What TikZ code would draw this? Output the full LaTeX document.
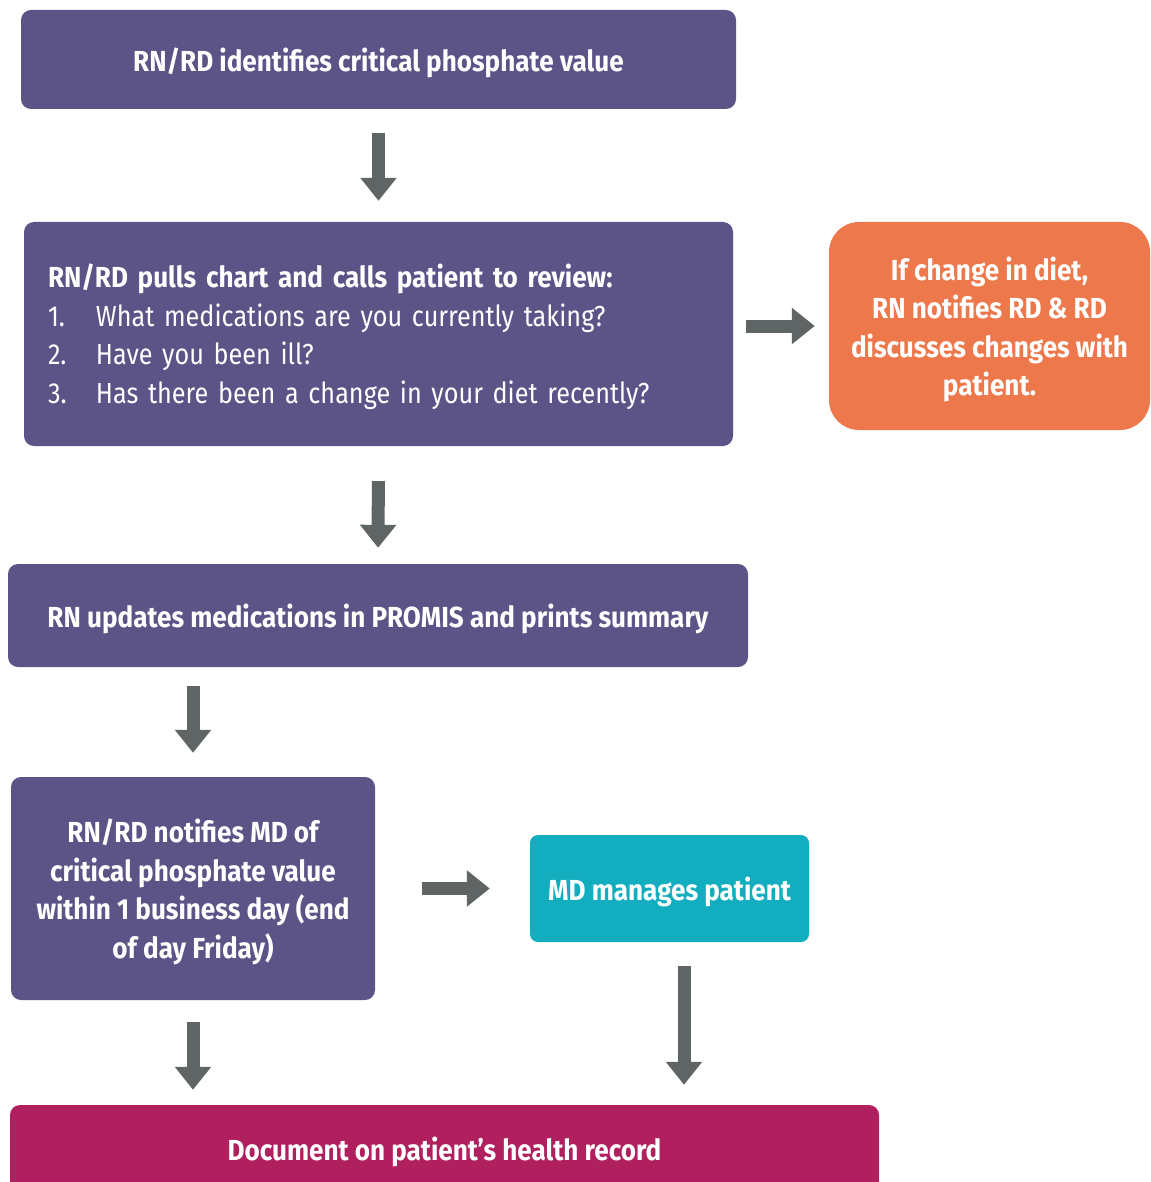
\documentclass[tikz,border=0pt]{standalone}
\usepackage{fontspec}
\setmainfont{Fira Sans}[UprightFeatures={FakeStretch=0.87}, BoldFeatures={FakeStretch=0.9}]
\usetikzlibrary{arrows.meta}
\definecolor{purp}{RGB}{92,83,135}
\definecolor{coral}{RGB}{237,120,76}
\definecolor{teal}{RGB}{18,174,192}
\definecolor{berry}{RGB}{176,31,94}
\definecolor{arrowgray}{RGB}{95,101,100}
\begin{document}
\begin{tikzpicture}[x=1pt,y=-1pt,
  box/.style={rounded corners=10pt, inner sep=0pt, text=white, align=center,
    font=\fontsize{29}{38.5}\selectfont},
  boldbox/.style={box, text depth=0pt, font=\fontsize{29}{38.5}\selectfont\bfseries},
  flow/.style={draw=arrowgray, line width=13pt, -{Triangle[width=35pt,length=23pt]}}]
\fill[white] (0,0) rectangle (1150,1182);
\useasboundingbox (0,0) rectangle (1150,1182);
\clip (0,0) rectangle (1150,1182);

% process boxes
\node[boldbox, fill=purp, minimum width=715pt, minimum height=99pt] (b1) at (378.5,59.5)
  {RN/RD identifies critical phosphate value};
\node[box, fill=purp, minimum width=709pt, minimum height=224pt, text width=661pt, align=left] (b2) at (378.5,334)
  {\rule{0pt}{29pt}{\bfseries RN/RD pulls chart and calls patient to review:}\\
   \makebox[48pt][l]{1.}What medications are you currently taking?\\
   \makebox[48pt][l]{2.}Have you been ill?\\
   \makebox[48pt][l]{3.}Has there been a change in your diet recently?};
\node[boldbox, fill=coral, rounded corners=30pt, minimum width=321pt, minimum height=208pt] (b3) at (989.5,326)
  {If change in diet,\\RN notifies RD \& RD\\discusses changes with\\patient.};
\node[boldbox, fill=purp, minimum width=740pt, minimum height=103pt] (b4) at (378,615.5)
  {RN updates medications in PROMIS and prints summary};
\node[boldbox, fill=purp, minimum width=364pt, minimum height=223pt] (b5) at (193,888.5)
  {RN/RD notifies MD of\\critical phosphate value\\within 1 business day (end\\of day Friday)};
\node[boldbox, fill=teal, rounded corners=8pt, minimum width=279pt, minimum height=107pt] (b6) at (669.5,888.5)
  {MD manages patient};
\node[boldbox, fill=berry, minimum width=869pt, minimum height=88pt] (b7) at (444.5,1149)
  {Document on patient’s health record};

% connectors
\draw[flow, shorten <=24pt, shorten >=21pt] (b1.south) -- (b2.north);
\draw[flow, shorten <=35pt, shorten >=16pt] (b2.south) -- (b4.north);
\draw[flow, shorten <=13pt, shorten >=14pt] (b3.west -| b2.east) -- (b3.west);
\draw[flow, shorten <=19pt, shorten >=24pt] (b5.north |- b4.south) -- (b5.north);
\draw[flow, shorten <=47pt, shorten >=40pt] (b5.east) -- (b6.west);
\draw[flow, shorten <=22pt, shorten >=15pt] (b5.south) -- (b5.south |- b7.north);
\coordinate (c7) at ([xshift=14.5pt]b6.south);
\draw[flow, shorten <=24pt, shorten >=20pt] (c7) -- (c7 |- b7.north);
\end{tikzpicture}
\end{document}
